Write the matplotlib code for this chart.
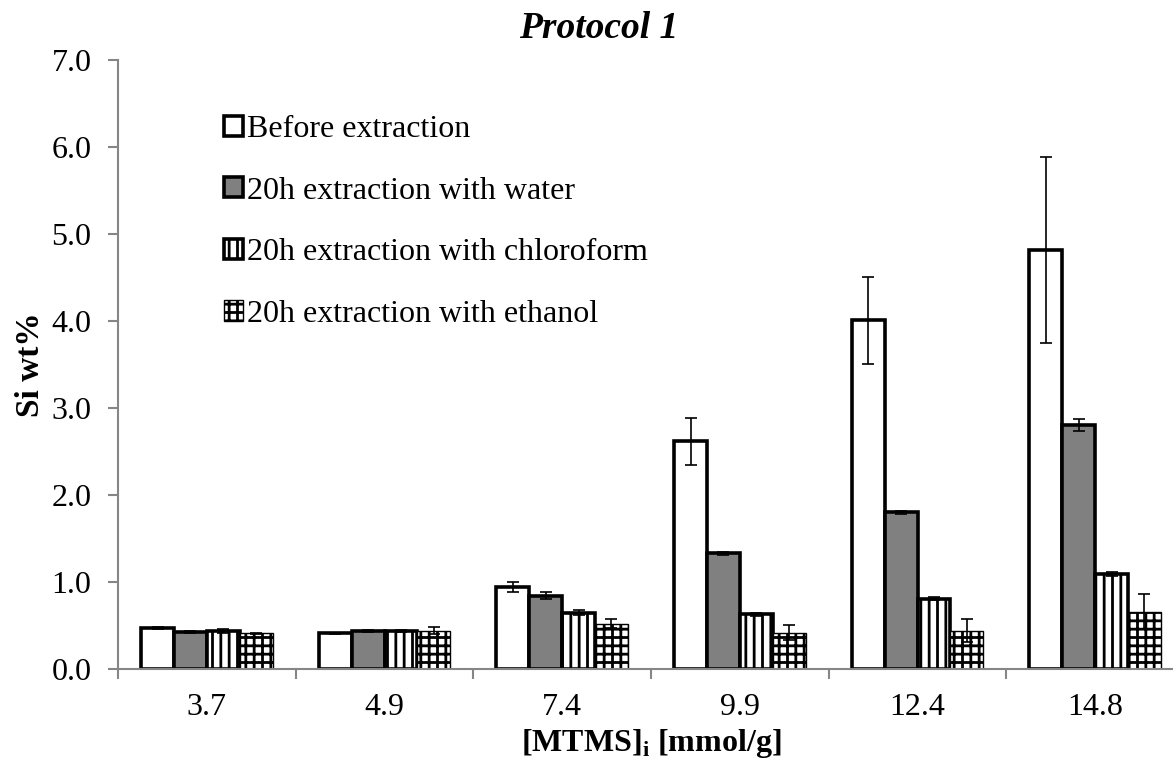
import numpy as np
import matplotlib
matplotlib.use("Agg")
import matplotlib.pyplot as plt

plt.rcParams['font.family'] = ['Liberation Serif', 'DejaVu Serif']
plt.rcParams['mathtext.fontset'] = 'custom'
plt.rcParams['mathtext.rm'] = 'Liberation Serif'
plt.rcParams['mathtext.bf'] = 'Liberation Serif:bold'
plt.rcParams['hatch.linewidth'] = 2.0

categories = ["3.7", "4.9", "7.4", "9.9", "12.4", "14.8"]
series_names = ["Before extraction", "20h extraction with water",
                "20h extraction with chloroform", "20h extraction with ethanol"]

before = [0.47, 0.41, 0.94, 2.62, 4.01, 4.82]
before_err = [0.01, 0.005, 0.06, 0.27, 0.50, 1.07]
water = [0.43, 0.44, 0.84, 1.33, 1.80, 2.81]
water_err = [0.01, 0.01, 0.04, 0.02, 0.02, 0.07]
chloroform = [0.44, 0.44, 0.65, 0.63, 0.81, 1.09]
chloroform_err = [0.02, 0.01, 0.03, 0.02, 0.02, 0.02]
ethanol = [0.41, 0.44, 0.52, 0.42, 0.44, 0.66]
ethanol_err = [0.01, 0.04, 0.05, 0.09, 0.13, 0.20]

fig = plt.figure(figsize=(11.73, 7.62), dpi=100)
ax = fig.add_axes([0.1006, 0.122, 0.9088, 0.799])

x = np.arange(len(categories))
w = 0.185
styles = [
    dict(color="white", edgecolor="black", linewidth=2.6, hatch=None),
    dict(color="#808080", edgecolor="black", linewidth=2.6, hatch=None),
    dict(color="white", edgecolor="black", linewidth=2.6, hatch="||"),
    dict(color="white", edgecolor="black", linewidth=1.0, hatch="++"),
]
values = [before, water, chloroform, ethanol]
errors = [before_err, water_err, chloroform_err, ethanol_err]

for i, (vals, errs, st, name) in enumerate(zip(values, errors, styles, series_names)):
    pos = x + (i - 1.5) * w
    ax.bar(pos, vals, w, label=name, zorder=2, **st)
    ax.errorbar(pos, vals, yerr=errs, fmt="none", ecolor="black",
                elinewidth=1.2, capsize=4.3, capthick=1.2, zorder=3)

ax.set_xlim(-0.5, len(categories) - 0.5)
ax.set_ylim(0, 7)
ax.set_yticks(np.arange(0, 7.01, 1.0))
ax.set_yticklabels(["%.1f" % v for v in np.arange(0, 7.01, 1.0)])
ax.set_xticks(x)
ax.set_xticklabels(categories)
ax.set_xticks(np.arange(-0.5, len(categories), 1.0), minor=True)

for s in ["top", "right"]:
    ax.spines[s].set_visible(False)
for s in ["left", "bottom"]:
    ax.spines[s].set_color("#868686")
    ax.spines[s].set_linewidth(1.5)
ax.tick_params(axis="y", which="major", direction="out", length=7, width=1.5,
               color="#868686", labelsize=23, pad=12)
ax.tick_params(axis="x", which="major", length=0, labelsize=23, pad=17)
ax.tick_params(axis="x", which="minor", direction="out", length=7, width=1.5,
               color="#868686")

ax.set_ylabel("Si wt%", fontsize=24, fontweight="bold", labelpad=4)
ax.set_xlabel(r"[MTMS]$_\mathbf{i}$ [mmol/g]", fontsize=23, fontweight="bold",
              labelpad=4)
fig.text(0.51, 0.962, "Protocol 1", fontsize=27, fontweight="bold",
         fontstyle="italic", ha="center", va="center")

ax.legend(loc="upper left", bbox_to_anchor=(0.099, 0.91), frameon=False,
          fontsize=23, handlelength=0.6, handleheight=0.6, handletextpad=0.15,
          labelspacing=1.02, borderpad=0, borderaxespad=0)

fig.savefig("out.png", dpi=100)
